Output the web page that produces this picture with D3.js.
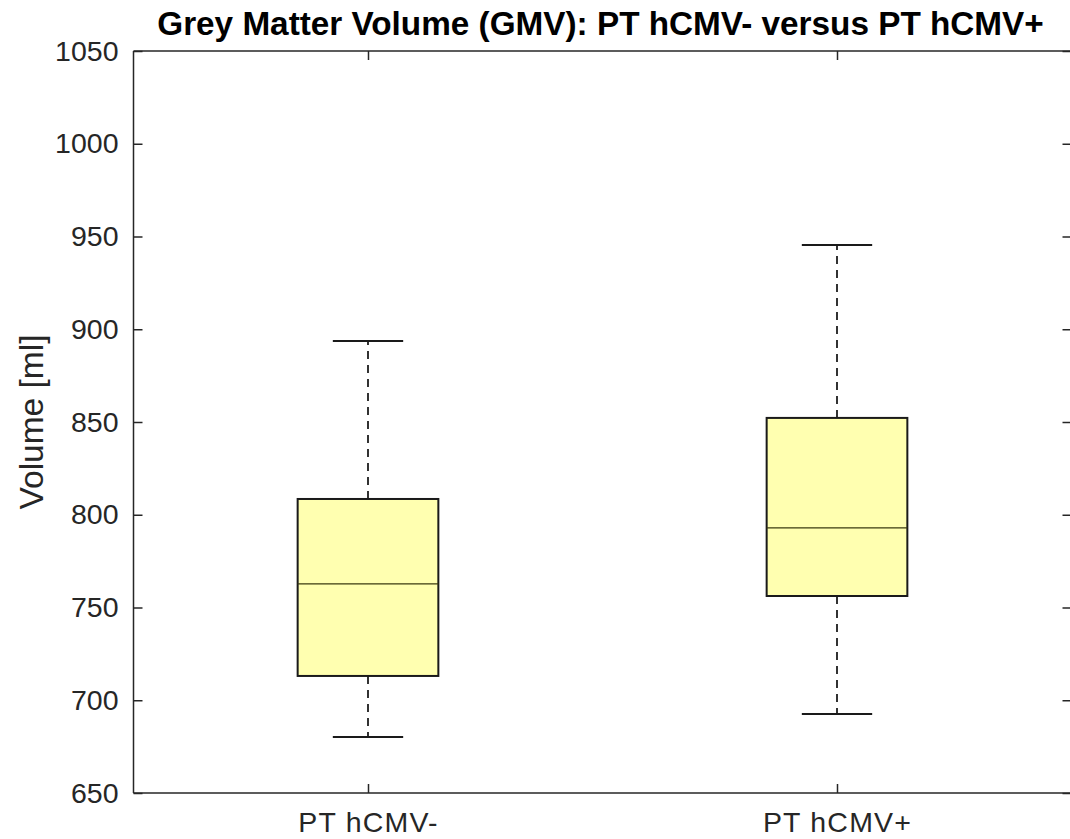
<!DOCTYPE html>
<html>
<head>
<meta charset="utf-8">
<script src="https://cdn.jsdelivr.net/npm/d3@7"></script>
<style>
  html, body { margin: 0; padding: 0; background: #fff; }
  svg { display: block; }
  text { font-family: "Liberation Sans", Arial, Helvetica, sans-serif; }
</style>
</head>
<body>
<svg id="chart" width="1070" height="839"></svg>
<script>
// Group labels and five-number summaries (ml)
const categories = ["PT hCMV-", "PT hCMV+"];
const whiskerLow  = [680.2, 692.6];
const q1          = [713.1, 756.2];
const median      = [762.7, 792.9];
const q3          = [808.5, 852.2];
const whiskerHigh = [893.7, 945.4];
const yTicks = [650, 700, 750, 800, 850, 900, 950, 1000, 1050];

const titleText = "Grey Matter Volume (GMV): PT hCMV- versus PT hCMV+";
const yLabel = "Volume [ml]";

const svg = d3.select("#chart");
const plotLeft = 133.5, plotRight = 1071.5, plotTop = 51, plotBottom = 793;
const axisColor = "#262626";
const tickLen = 9;
const tickFont = "28.5px";

// Positions 1..n with half-unit padding, as in a classic boxplot layout
const x = d3.scaleLinear().domain([0.5, categories.length + 0.5]).range([plotLeft, plotRight]);
const y = d3.scaleLinear().domain([650, 1050]).range([plotBottom, plotTop]);
const boxW = 0.3, capW = 0.15;

const data = categories.map((c, i) => ({
  name: c, pos: i + 1,
  lo: whiskerLow[i], q1: q1[i], med: median[i], q3: q3[i], hi: whiskerHigh[i]
}));

const g = svg.append("g");

// Boxes
const box = g.selectAll("g.box").data(data).join("g").attr("class", "box");

// Dashed whiskers
box.append("line")
  .attr("x1", d => x(d.pos)).attr("x2", d => x(d.pos))
  .attr("y1", d => y(d.q3)).attr("y2", d => y(d.hi))
  .attr("stroke", "#000").attr("stroke-width", 1.6).attr("stroke-dasharray", "8,6");
box.append("line")
  .attr("x1", d => x(d.pos)).attr("x2", d => x(d.pos))
  .attr("y1", d => y(d.q1)).attr("y2", d => y(d.lo))
  .attr("stroke", "#000").attr("stroke-width", 1.6).attr("stroke-dasharray", "8,6");

// Whisker caps
box.append("line")
  .attr("x1", d => x(d.pos - capW / 2)).attr("x2", d => x(d.pos + capW / 2))
  .attr("y1", d => y(d.hi)).attr("y2", d => y(d.hi))
  .attr("stroke", "#1a1a1a").attr("stroke-width", 2);
box.append("line")
  .attr("x1", d => x(d.pos - capW / 2)).attr("x2", d => x(d.pos + capW / 2))
  .attr("y1", d => y(d.lo)).attr("y2", d => y(d.lo))
  .attr("stroke", "#1a1a1a").attr("stroke-width", 2);

// Interquartile box
box.append("rect")
  .attr("x", d => x(d.pos - boxW / 2))
  .attr("width", d => x(d.pos + boxW / 2) - x(d.pos - boxW / 2))
  .attr("y", d => y(d.q3))
  .attr("height", d => y(d.q1) - y(d.q3))
  .attr("fill", "#ffffb0").attr("stroke", "#1a1a1a").attr("stroke-width", 2);

// Median
box.append("line")
  .attr("x1", d => x(d.pos - boxW / 2)).attr("x2", d => x(d.pos + boxW / 2))
  .attr("y1", d => y(d.med)).attr("y2", d => y(d.med))
  .attr("stroke", "#3a3a10").attr("stroke-width", 1.2);

// Axes frame
const frame = svg.append("g");
frame.append("line").attr("x1", plotLeft).attr("x2", plotRight).attr("y1", plotTop).attr("y2", plotTop)
  .attr("stroke", axisColor).attr("stroke-width", 1.5);
frame.append("line").attr("x1", plotLeft).attr("x2", plotRight).attr("y1", plotBottom).attr("y2", plotBottom)
  .attr("stroke", axisColor).attr("stroke-width", 1.5);
frame.append("line").attr("x1", plotLeft).attr("x2", plotLeft).attr("y1", plotTop).attr("y2", plotBottom)
  .attr("stroke", axisColor).attr("stroke-width", 1.5);
frame.append("line").attr("x1", plotRight).attr("x2", plotRight).attr("y1", plotTop).attr("y2", plotBottom)
  .attr("stroke", axisColor).attr("stroke-width", 1.5);

// Left y axis with inward ticks
const yAxis = d3.axisLeft(y).tickValues(yTicks).tickSize(-tickLen).tickPadding(15).tickFormat(d3.format("d"));
const ya = svg.append("g").attr("transform", `translate(${plotLeft},0)`).call(yAxis);
ya.select(".domain").remove();
ya.selectAll(".tick line").attr("stroke", axisColor).attr("stroke-width", 1.5);
ya.selectAll(".tick text").attr("fill", axisColor).style("font-size", tickFont)
  .style("font-family", "'Liberation Sans', Arial, sans-serif");

// Right y axis ticks (no labels)
const yAxisR = d3.axisRight(y).tickValues(yTicks).tickSize(-tickLen).tickFormat("");
const yr = svg.append("g").attr("transform", `translate(${plotRight},0)`).call(yAxisR);
yr.select(".domain").remove();
yr.selectAll(".tick line").attr("stroke", axisColor).attr("stroke-width", 1.5);

// Bottom x axis
const xAxis = d3.axisBottom(x).tickValues(data.map(d => d.pos))
  .tickFormat((d, i) => categories[i]).tickSize(-tickLen).tickPadding(19);
const xa = svg.append("g").attr("transform", `translate(0,${plotBottom})`).call(xAxis);
xa.select(".domain").remove();
xa.selectAll(".tick line").attr("stroke", axisColor).attr("stroke-width", 1.5);
xa.selectAll(".tick text").attr("fill", axisColor).style("font-size", tickFont)
  .style("letter-spacing", "1.2px")
  .style("font-family", "'Liberation Sans', Arial, sans-serif");

// Top x ticks
const xAxisT = d3.axisTop(x).tickValues(data.map(d => d.pos)).tickSize(-tickLen).tickFormat("");
const xt = svg.append("g").attr("transform", `translate(0,${plotTop})`).call(xAxisT);
xt.select(".domain").remove();
xt.selectAll(".tick line").attr("stroke", axisColor).attr("stroke-width", 1.5);

// Title
svg.append("text")
  .attr("x", 600.5).attr("y", 35)
  .attr("text-anchor", "middle")
  .style("font-size", "33.3px").style("font-weight", "bold").attr("fill", "#000")
  .text(titleText);

// Y label
svg.append("text")
  .attr("transform", `translate(43,${(plotTop + plotBottom) / 2}) rotate(-90)`)
  .attr("text-anchor", "middle")
  .style("font-size", "33.5px").attr("fill", axisColor)
  .text(yLabel);
</script>
</body>
</html>
